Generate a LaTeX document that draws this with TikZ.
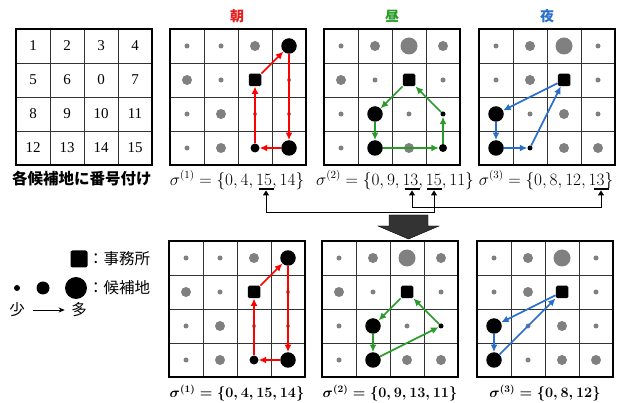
\documentclass[tikz,border=0pt]{standalone}
\usepackage{fontspec}
\newfontfamily\jp{Noto Sans CJK JP}
\newfontfamily\numfont{Liberation Serif}
\usetikzlibrary{arrows.meta, positioning}

\definecolor{dotgray}{RGB}{128,128,128}
\definecolor{morning}{RGB}{230,30,30}
\definecolor{noon}{RGB}{40,155,40}
\definecolor{night}{RGB}{40,110,205}

% 4x4 grid, coordinates (name-k) at the centres of the cells
\newcommand{\cellgrid}[3]{%
  \foreach \i in {1,2,3} {
    \draw[gridline] (#2+34*\i,#3) -- ++(0,136);
    \draw[gridline] (#2,#3+34*\i) -- ++(136,0);
  }
  \draw[gridframe] (#2,#3) rectangle ++(136,136);
  \foreach \n [count=\k from 0] in {1,2,3,4,5,6,0,7,8,9,10,11,12,13,14,15} {
    \pgfmathtruncatemacro\cc{mod(\k,4)}
    \pgfmathtruncatemacro\rr{div(\k,4)}
    \coordinate (#1-\n) at (#2+17+34*\cc, #3+17+34*\rr);
  }
}

\tikzset{
  gridline/.style={black!80, line width=0.8pt},
  gridframe/.style={black, line width=1.4pt},
  office/.style={rectangle, fill=black, minimum size=12.5pt, inner sep=0pt, rounded corners=1.5pt},
  bigsite/.style={circle, fill=black, minimum size=15.5pt, inner sep=0pt},
  midsite/.style={circle, fill=black, minimum size=9pt, inner sep=0pt},
  tinysite/.style={circle, fill=black, minimum size=5pt, inner sep=0pt},
  route/.style={-{Latex[length=7.5pt,width=7pt]}, line width=1.6pt},
  num/.style={font=\numfont\fontsize{15}{17}\selectfont},
  title/.style={font=\jp\bfseries\fontsize{14}{16}\selectfont},
  legendtext/.style={font=\jp\fontsize{15.5}{17}\selectfont},
  sigma/.style={font=\fontsize{16}{18}\selectfont, inner sep=0pt},
  bsigma/.style={font=\fontsize{13.7}{16}\selectfont\boldmath, inner sep=0pt},
  bar/.style={rectangle, fill=black, minimum width=15pt, minimum height=2.5pt, inner sep=0pt},
  link/.style={{Triangle[length=5pt,width=6pt]}-{Triangle[length=5pt,width=6pt]}, line width=0.9pt},
}

\begin{document}
\begin{tikzpicture}[x=1pt, y=-1pt]
  \useasboundingbox (0,0) rectangle (627,403);

  % numbering of the candidate sites
  \cellgrid{N}{16}{29}
  \foreach \n in {0,...,15} \node[num] (n\n) at (N-\n) {\n};
  \node[font=\jp\bfseries\fontsize{15.5}{17}\selectfont] (cap) at (82,179) {各候補地に番号付け};

  % titles
  \node[title, text=morning] (tA) at (237,16) {朝};
  \node[title, text=noon] (tB) at (392,16) {昼};
  \node[title, text=night] (tC) at (547,16) {夜};

  % ---- top row ----
  \cellgrid{A}{170}{29}
  \foreach \n/\r in {1/2.5,2/2.5,3/5,5/5,6/2.5,7/2,8/2.5,9/5,10/2,11/2,12/2.5,13/5}
    \fill[dotgray] (A-\n) circle[radius=\r pt];
  \node[office] (a0) at (A-0) {};
  \node[bigsite] (a4) at (A-4) {};
  \node[bigsite] (a15) at (A-15) {};
  \node[midsite] (a14) at (A-14) {};
  \draw[route, red] (a0) -- (a4);
  \draw[route, red] (a4) -- (a15);
  \draw[route, red] (a15) -- (a14);
  \draw[route, red] (a14) -- (a0);

  \cellgrid{B}{324}{29}
  \foreach \n/\r in {1/2.5,2/5,3/8.5,4/5,5/5,6/2.5,7/2.5,8/2.5,10/2.5,12/2.5,14/5}
    \fill[dotgray] (B-\n) circle[radius=\r pt];
  \node[office] (b0) at (B-0) {};
  \node[bigsite] (b9) at (B-9) {};
  \node[bigsite] (b13) at (B-13) {};
  \node[midsite, minimum size=8pt] (b15) at (B-15) {};
  \node[tinysite] (b11) at (B-11) {};
  \draw[route, noon] (b0) -- (b9);
  \draw[route, noon] (b9) -- (b13);
  \draw[route, noon] (b13) -- (b15);
  \draw[route, noon] (b15) -- (b11);
  \draw[route, noon] (b11) -- (b0);

  \cellgrid{C}{479}{29}
  \foreach \n/\r in {1/2.5,2/5,3/8.5,4/2.5,5/2.5,6/5,7/2.5,9/2.5,10/5,11/2.5,14/5,15/5}
    \fill[dotgray] (C-\n) circle[radius=\r pt];
  \node[office] (c0) at (C-0) {};
  \node[bigsite] (c8) at (C-8) {};
  \node[bigsite] (c12) at (C-12) {};
  \node[tinysite] (c13) at (C-13) {};
  \draw[route, night] (c0) -- (c8);
  \draw[route, night] (c8) -- (c12);
  \draw[route, night] (c12) -- (c13);
  \draw[route, night] (c13) -- (c0);

  \node[sigma] (sA) at (237,180) {$\sigma^{(1)}=\{0,4,15,14\}$};
  \node[sigma] (sB) at (395,180) {$\sigma^{(2)}=\{0,9,13,15,11\}$};
  \node[sigma] (sC) at (546,180) {$\sigma^{(3)}=\{0,8,12,13\}$};

  % marks under the shared sites
  \node[bar] (m1) at (266,189) {};
  \node[bar] (m2) at (412,189) {};
  \node[bar] (m3) at (434,189) {};
  \node[bar] (m4) at (601,189) {};
  \draw[link] (m1.south) -- ++(0,22) -| (m3.south);
  \draw[link] (m2.south) -- ++(0,17) -| (m4.south);

  % big arrow
  \fill[black!80, draw=black] (389,215) -- (428,215) -- (428,226) -- (439,226)
    -- (408.5,239) -- (378,226) -- (389,226) -- cycle;

  % ---- bottom row ----
  \cellgrid{D}{169}{241}
  \foreach \n/\r in {1/2.5,2/2.5,3/5,5/5,6/2.5,7/2,8/2.5,9/5,10/2,11/2,12/2.5,13/5}
    \fill[dotgray] (D-\n) circle[radius=\r pt];
  \node[office] (d0) at (D-0) {};
  \node[bigsite] (d4) at (D-4) {};
  \node[bigsite] (d15) at (D-15) {};
  \node[midsite] (d14) at (D-14) {};
  \draw[route, red] (d0) -- (d4);
  \draw[route, red] (d4) -- (d15);
  \draw[route, red] (d15) -- (d14);
  \draw[route, red] (d14) -- (d0);

  \cellgrid{E}{322}{241}
  \foreach \n/\r in {1/2.5,2/5,3/8.5,4/5,5/5,6/2.5,7/2.5,8/2.5,10/2.5,12/2.5,14/5,15/5}
    \fill[dotgray] (E-\n) circle[radius=\r pt];
  \node[office] (e0) at (E-0) {};
  \node[bigsite] (e9) at (E-9) {};
  \node[bigsite] (e13) at (E-13) {};
  \node[tinysite] (e11) at (E-11) {};
  \draw[route, noon] (e0) -- (e9);
  \draw[route, noon] (e9) -- (e13);
  \draw[route, noon] (e13) -- (e11);
  \draw[route, noon] (e11) -- (e0);

  \cellgrid{F}{477}{241}
  \foreach \n/\r in {1/2.5,2/5,3/8.5,4/2.5,5/2.5,6/5,7/2.5,9/2.5,10/5,11/2.5,13/2.5,14/5,15/5}
    \fill[dotgray] (F-\n) circle[radius=\r pt];
  \node[office] (f0) at (F-0) {};
  \node[bigsite] (f8) at (F-8) {};
  \node[bigsite] (f12) at (F-12) {};
  \draw[route, night] (f0) -- (f8);
  \draw[route, night] (f8) -- (f12);
  \draw[route, night] (f12) -- (f0);

  \node[bsigma] (sD) at (237,393) {$\sigma^{(1)}=\{0,4,15,14\}$};
  \node[bsigma] (sE) at (390,393) {$\sigma^{(2)}=\{0,9,13,11\}$};
  \node[bsigma] (sF) at (545,393) {$\sigma^{(3)}=\{0,8,12\}$};

  % legend
  \node[office, minimum size=17pt, rounded corners=2pt] (keyoffice) at (79,259) {};
  \node[legendtext, anchor=west, inner sep=0pt] (keyofficetxt) at (88,259) {：事務所};
  \node[circle, fill=black, minimum size=6pt, inner sep=0pt] (keyfew) at (17,288) {};
  \node[circle, fill=black, minimum size=13pt, inner sep=0pt] (keymid) at (43,288) {};
  \node[circle, fill=black, minimum size=22pt, inner sep=0pt] (keymany) at (76,288) {};
  \node[legendtext, anchor=west, inner sep=0pt] (keysitetxt) at (88,288) {：候補地};
  \node[legendtext] (few) at (17,310) {少};
  \node[legendtext] (many) at (79,310) {多};
  \draw[-{Stealth[length=6pt,width=5pt]}, line width=0.8pt, shorten <=5pt, shorten >=3pt] (few) -- (many);
\end{tikzpicture}
\end{document}
